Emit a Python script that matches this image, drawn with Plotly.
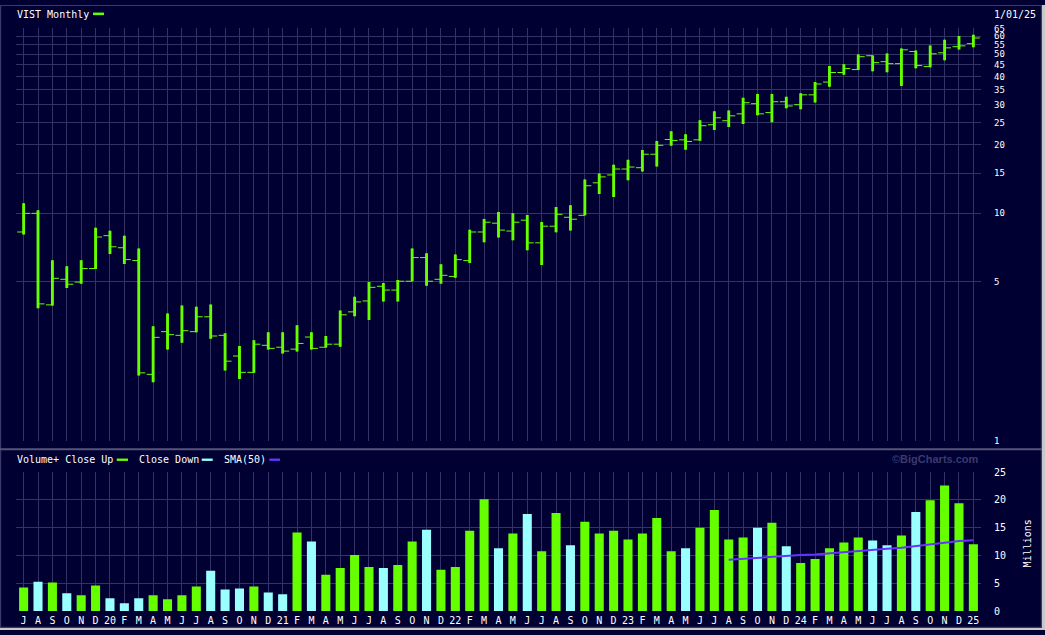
import numpy as np
import pandas as pd
import plotly.graph_objects as go

# ---------------- data ----------------
month_labels = ["J", "A", "S", "O", "N", "D",
                "20", "F", "M", "A", "M", "J", "J", "A", "S", "O", "N", "D",
                "21", "F", "M", "A", "M", "J", "J", "A", "S", "O", "N", "D",
                "22", "F", "M", "A", "M", "J", "J", "A", "S", "O", "N", "D",
                "23", "F", "M", "A", "M", "J", "J", "A", "S", "O", "N", "D",
                "24", "F", "M", "A", "M", "J", "J", "A", "S", "O", "N", "D",
                "25"]

opens = [8.28, 10.00, 3.96, 5.13, 4.99, 5.72,
         7.98, 7.06, 6.20, 1.96, 3.02, 2.91, 3.02, 3.51, 2.91, 2.36, 2.00, 2.63,
         2.58, 2.53, 2.86, 2.58, 2.66, 3.69, 4.12, 4.78, 4.60, 5.03, 6.39, 5.13,
         5.28, 6.20, 8.28, 9.05, 8.36, 9.33, 7.42, 8.78, 9.61, 9.80, 13.62, 14.75,
         15.66, 15.87, 18.19, 21.12, 21.04, 21.04, 24.52, 25.53, 27.37, 30.33, 27.73, 30.94,
         30.02, 33.18, 37.76, 41.59, 42.85, 49.28, 46.42, 45.50, 51.43, 44.16, 50.77, 54.00,
         55.70]
highs = [11.08, 10.33, 6.22, 5.86, 6.22, 8.64,
         8.38, 7.98, 7.01, 3.19, 3.63, 3.93, 3.89, 3.97, 2.97, 2.61, 2.77, 3.00,
         3.00, 3.22, 3.00, 2.89, 3.74, 4.30, 4.99, 4.94, 5.09, 7.01, 6.67, 5.97,
         6.60, 8.47, 9.45, 10.13, 10.00, 9.83, 9.17, 10.65, 10.86, 14.08, 14.95, 16.35,
         17.18, 18.98, 20.77, 22.94, 22.27, 25.68, 28.09, 28.29, 32.19, 33.50, 33.50, 32.52,
         33.74, 37.76, 44.43, 45.19, 49.93, 49.43, 50.42, 53.00, 51.95, 54.61, 57.97, 60.14,
         60.93]
lows = [8.08, 3.83, 3.93, 4.70, 4.91, 5.70,
        6.62, 5.99, 1.94, 1.81, 2.52, 2.70, 3.00, 2.81, 2.04, 1.87, 1.99, 2.52,
        2.42, 2.47, 2.52, 2.57, 2.59, 3.53, 3.40, 4.10, 4.10, 5.03, 4.81, 4.91,
        5.21, 6.05, 7.46, 7.84, 7.61, 6.89, 5.93, 8.25, 8.41, 9.80, 12.16, 11.80,
        13.98, 15.29, 16.07, 19.81, 19.05, 20.83, 23.24, 23.94, 24.67, 27.00, 25.17, 28.94,
        28.66, 30.72, 36.04, 40.61, 42.69, 42.14, 41.72, 36.29, 43.42, 43.85, 47.03, 52.48,
        53.70]
closes = [10.00, 4.00, 5.18, 4.88, 5.72, 7.87,
          7.13, 6.26, 1.99, 2.85, 2.93, 3.05, 3.51, 2.89, 2.24, 2.00, 2.66, 2.55,
          2.48, 2.68, 2.55, 2.66, 3.58, 4.08, 4.73, 4.60, 5.03, 6.39, 5.03, 5.34,
          6.26, 8.28, 9.14, 8.44, 9.14, 7.42, 8.78, 9.90, 9.42, 13.22, 14.46, 15.66,
          15.98, 18.19, 19.90, 20.91, 20.70, 24.28, 26.30, 26.83, 30.63, 27.37, 30.94, 29.64,
          33.18, 37.02, 41.59, 43.29, 48.79, 45.96, 45.50, 52.32, 44.61, 50.27, 53.38, 54.45,
          58.96]
volumes_m = [4.23, 5.29, 5.12, 3.18, 2.82, 4.59,
             2.29, 1.41, 2.29, 2.82, 2.12, 2.82, 4.41, 7.23, 3.88, 4.06, 4.41, 3.35,
             3.00, 14.11, 12.53, 6.53, 7.76, 10.06, 7.94, 7.76, 8.29, 12.53, 14.64, 7.41,
             7.94, 14.46, 20.11, 11.29, 13.94, 17.47, 10.76, 17.64, 11.82, 16.05, 13.94, 14.46,
             12.88, 13.94, 16.76, 10.76, 11.29, 15.00, 18.17, 12.88, 13.23, 15.00, 15.88, 11.64,
             8.64, 9.35, 11.29, 12.35, 13.23, 12.70, 11.82, 13.58, 17.82, 19.94, 22.58, 19.41,
             12.00]

price_ticks = [1, 5, 10, 15, 20, 25, 30, 35, 40, 45, 50, 55, 60, 65]
volume_ticks = [0, 5, 10, 15, 20, 25]

# ---------------- styling ----------------
W, H = 1045, 635
BG = "#000033"
GRID = "#333366"
GREEN = "#66ff00"
CYAN = "#99ffff"
PURPLE = "#6633ff"
FONT = "DejaVu Sans Mono"


def fx(px):
    return px / W


def fy(py):
    return 1 - py / H


idx = list(range(len(closes)))
up = [closes[0] >= opens[0]] + [closes[i] >= closes[i - 1] for i in range(1, len(closes))]
vol_colors = [GREEN if u else CYAN for u in up]
sma50 = pd.Series(volumes_m).rolling(50).mean()

fig = go.Figure()

# high-low thick bars
fig.add_trace(go.Bar(
    x=idx, y=[h - l for h, l in zip(highs, lows)], base=lows,
    width=0.2, marker=dict(color=GREEN, line=dict(width=0)),
    xaxis="x", yaxis="y", showlegend=False, hoverinfo="skip"))
# open / close ticks
fig.add_trace(go.Ohlc(
    x=idx, open=opens, high=highs, low=lows, close=closes,
    tickwidth=0.45,
    increasing=dict(line=dict(color=GREEN, width=1)),
    decreasing=dict(line=dict(color=GREEN, width=1)),
    xaxis="x", yaxis="y", showlegend=False))

# volume
fig.add_trace(go.Bar(
    x=idx, y=volumes_m, width=0.63,
    marker=dict(color=vol_colors, line=dict(width=0)),
    xaxis="x2", yaxis="y2", showlegend=False))
fig.add_trace(go.Scatter(
    x=idx, y=sma50, mode="lines", line=dict(color=PURPLE, width=2),
    xaxis="x2", yaxis="y2", showlegend=False))

xdom = [fx(16), fx(981)]
xrange = [-0.53, 66.53]
tickfont = dict(family=FONT, size=10, color="white")
pricefont = dict(family=FONT, size=9, color="white")

fig.update_layout(
    width=W, height=H,
    margin=dict(l=0, r=0, t=0, b=0),
    paper_bgcolor=BG, plot_bgcolor=BG,
    showlegend=False, hovermode=False,
    xaxis=dict(domain=xdom, range=xrange, anchor="y",
               tickvals=idx, showticklabels=False, ticks="",
               showgrid=True, gridcolor=GRID, gridwidth=1, zeroline=False,
               showline=False, rangeslider=dict(visible=False), fixedrange=True),
    yaxis=dict(domain=[fy(443.3), fy(23.3)], type="log",
               range=[np.log10(1) - 0.002, np.log10(65) + 0.002],
               tickvals=price_ticks, ticktext=[str(t) for t in price_ticks],
               side="right", showgrid=True, gridcolor=GRID, gridwidth=1,
               zeroline=False, showline=False, ticks="",
               tickfont=pricefont, ticklabelstandoff=12, anchor="x"),
    xaxis2=dict(domain=xdom, range=xrange, anchor="y2",
                tickvals=idx, ticktext=month_labels, ticks="",
                tickfont=tickfont, tickangle=0, ticklabelstandoff=2,
                showgrid=True, gridcolor=GRID, gridwidth=1, zeroline=False,
                showline=False),
    yaxis2=dict(domain=[fy(616), fy(474.3)], range=[-0.05, 25.05],
                tickvals=volume_ticks, ticktext=[str(t) for t in volume_ticks],
                side="right", showgrid=True, gridcolor=GRID, gridwidth=1,
                zeroline=False, showline=False, ticks="",
                tickfont=tickfont, ticklabelstandoff=12, anchor="x2"),
)


def ann(text, x, y, xanchor="left", color="white", size=10, family=FONT, angle=0):
    fig.add_annotation(text=text, x=fx(x), y=fy(y), xref="paper", yref="paper",
                       xanchor=xanchor, yanchor="middle", showarrow=False,
                       textangle=angle, font=dict(family=family, size=size, color=color))


ann("VIST Monthly", 15, 9.5)
ann("1/01/25", 992, 10)
ann("Volume+ Close Up", 15, 461.5)
ann("Close Down", 136.5, 461.5)
ann("SMA(50)", 221.5, 461.5)
ann("<b>©BigCharts.com</b>", 981, 461.5, xanchor="right", color="#3a3a6e",
    size=11, family="Liberation Sans")
ann("Millions", 1027, 547, xanchor="center", angle=-90)


def rect(x0, y0, x1, y1, color, layer="above"):
    fig.add_shape(type="rect", xref="paper", yref="paper",
                  x0=fx(x0), x1=fx(x1), y0=fy(y0), y1=fy(y1),
                  fillcolor=color, line=dict(width=0), layer=layer)


# legend swatches
rect(93, 7.7, 104, 10.3, GREEN)
rect(116.7, 460.8, 128, 463.2, GREEN)
rect(201.7, 460.8, 212.7, 463.2, CYAN)
rect(269.3, 460.8, 280, 463.2, PURPLE)

# frame lines
rect(0, 0, 1042, 1, "#3a3a6a")
rect(0, 0, 1.2, 633, "#3a3a6a")
rect(1040.8, 0, 1042, 633, "#3a3a6a")
rect(0, 631.8, 1042, 633, "#3a3a6a")
rect(0, 450.3, 1042, 452.3, "#55557a")
# outside strips
rect(1042, 0, 1045, 635, "#c8c8c8")
rect(0, 633, 1045, 635, "#c8c8c8")

fig.write_html("out.html",
               config=dict(displayModeBar=False, staticPlot=True),
               post_script="document.body.style.margin='0px';"
                           "document.body.style.overflow='hidden';")
